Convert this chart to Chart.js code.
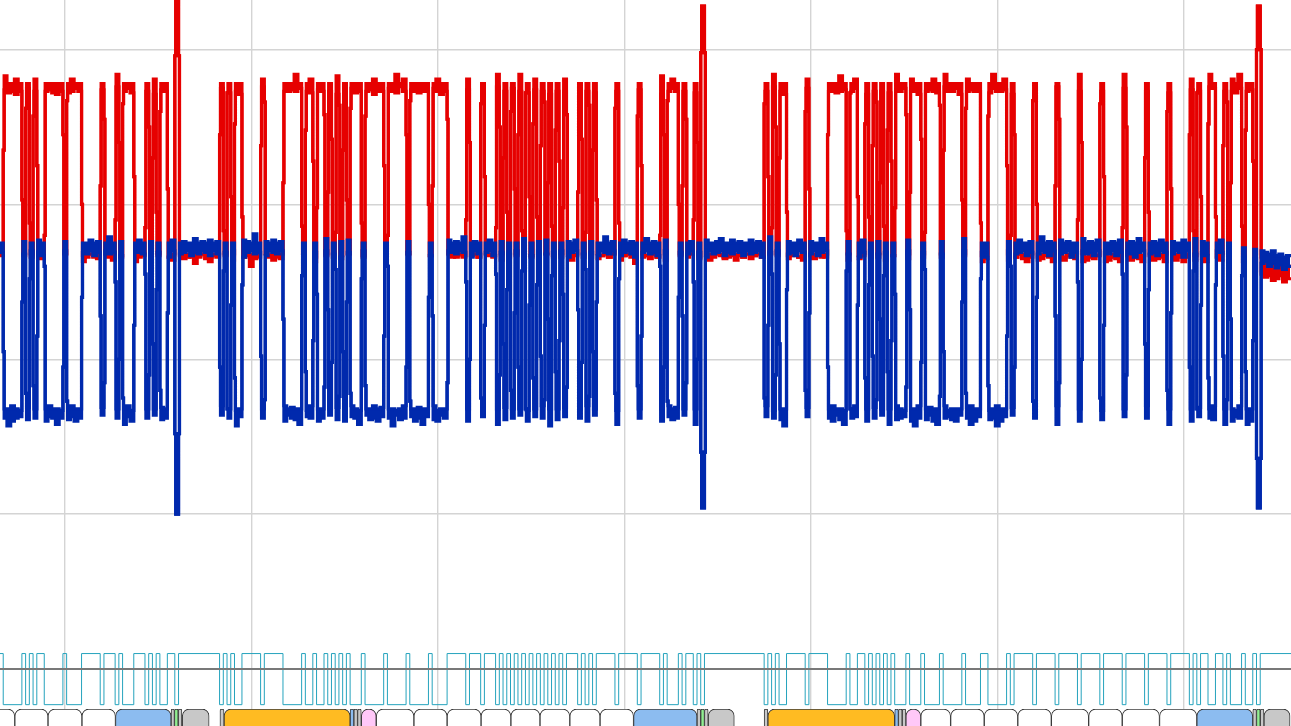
<!DOCTYPE html>
<html>
<head>
<meta charset="utf-8">
<title>traces</title>
<script src="https://cdn.jsdelivr.net/npm/chart.js@4"></script>
<style>
html, body { margin: 0; padding: 0; background: #fff; overflow: hidden; width: 1291px; height: 726px; }
canvas { position: absolute; left: 0; display: block; }
#main { top: 0; }
#lanes { top: 709px; }
</style>
</head>
<body>
<canvas id="main" width="1291" height="709"></canvas>
<canvas id="lanes" width="1291" height="40"></canvas>
<script>
// sample numbers where the teal state flips, it starts high
var tealEdges = [1,6,7,8,9,10,12,17,18,22,27,28,31,32,33,36,39,40,41,42,43,45,47,48,59,60,61,62,63,65,70,71,76,81,82,84,85,87,88,89,90,91,92,93,94,97,98,103,104,109,110,115,116,120,125,126,129,130,133,134,135,136,137,138,139,140,141,142,143,144,145,146,147,148,149,150,151,152,155,156,157,158,159,160,165,166,171,172,177,178,179,182,183,184,186,187,188,189,205,206,207,208,209,211,216,217,222,227,228,230,232,233,234,235,236,237,238,239,240,243,244,247,248,252,253,258,259,263,265,270,271,272,277,278,283,284,289,290,295,296,301,302,307,308,313,314,319,320,321,322,324,326,328,329,330,333,334,336,337,338];
var tealHigh = 10;
var tealLow = -23;

// red band while teal is low, upper and lower edge, one value per sample
var redTopUp = [383,378,378,381,378,378,381,378,378,378,378,378,378,381,378,378,378,384,378,378,378,378,381,378,378,378,378,378,378,378,381,378,378,378,384,378,378,381,378,378,378,383,378,378,378,378,378,378,381,378,378,378,378,384,378,381,378,378,378,378,378,378,381,378,378,381,378,384,378,378,384,378,381,378,378,378,381,378,378,378,378,378,383,378,381,378,378,378,378,378,384,378,378,381,378,378,378,383,378,378,381,378,378,378,378,384,378,378,381,378,378,378,378,381,378,384,378,378,378,378,381,378,378,378,378,384,378,378,381,378,378,378,384,378,384,378,378,381,378,384,378,378,381,378,384,378,378,384,381,378];
var redTopLo = [374,372,373,371,373,375,373,373,374,372,371,373,372,373,375,373,374,376,373,375,372,373,371,374,373,373,375,372,373,371,376,373,373,374,373,375,373,372,374,373,373,371,373,375,372,373,373,374,371,373,373,375,373,372,376,373,374,373,372,373,373,375,373,371,373,374,373,376,373,375,373,372,374,373,371,373,373,375,373,372,373,374,371,373,375,373,373,372,374,373,376,373,371,375,373,373,372,373,374,373,375,371,373,373,372,374,373,375,373,373,371,373,374,373,372,376,373,373,375,371,373,374,373,373,372,375,373,373,374,371,373,376,373,373,375,373,372,374,373,376,375,373,373,372,375,373,374,376,373,373];
// red band while teal is high
var redFloorUp = [268,267,268,268,266,268,267,268,268,266,268,268,267,268,266,268,268,267,268,268,266,268,267,268,268,266,268,267,268,268,266,268,268,267,268,266,268,268,267,268,268,266,268,267,268,268,266,268,268,267,268,266,268,268,267,268,268,266,268,267,268,268,266,268,268,267,268,266,268,268,267,268,268,266,268,267,268,268,266,268,268,267,268,266,268,268,267,268,268,266,268,267,268,268,266,268,268,267,268,266,268,268,267,268,268,266,268,267,268,268,266,268,268,267,268,266,268,268,267,268,268,266,268,267,268,268,266,268,268,267,268,266,268,268,267,268,268,266,268,267,268,268,266,268,268,267,268,266,268,268,267,268,268,266,268,267,268,268,266,268,268,267,268,266,268,268,267,268,268,266,268,267,268,268,266,268,268,267,268,266,268,268,267,268,268,266,268,267,268,268,266,264,263,262,260,262,263,260,261,260];
var redFloorLo = [267,268,266,267,265,268,263,266,268,267,265,268,266,264,267,263,266,268,265,267,266,264,268,265,266,267,262,266,268,265,263,267,266,268,264,266,267,260,265,266,268,267,264,266,265,268,263,267,266,265,268,267,266,268,267,268,266,267,268,266,267,268,266,268,267,266,264,268,267,268,266,265,268,267,266,268,264,267,268,266,265,267,268,266,268,264,267,268,266,262,266,267,265,268,266,264,267,266,268,265,267,264,266,268,267,265,266,268,264,267,266,268,265,267,268,266,268,267,265,267,268,266,264,267,265,268,267,266,264,265,267,268,266,264,267,265,266,268,267,263,265,264,266,268,265,263,266,264,265,267,266,263,265,264,267,266,265,263,264,266,265,267,263,264,266,265,263,267,264,266,265,263,267,264,265,266,263,265,264,267,263,266,264,265,263,266,264,265,263,257,255,253,254,251,252,254,250,252,251,250];
var redShoulders = [335,303,362,288,357,325,280,345,367,300,312,355,290,340,365,318,285,350,330,295,360,310,345,283,372,305,352,292,338,366,314,286,348,328,298,358,308,342,282,364];

// blue band while teal is low, upper and lower edge
var blueBotUp = [168,168,170,168,167,169,168,168,170,168,168,167,168,170,168,168,169,168,168,170,167,168,168,169,168,168,170,168,167,168,168,170,168,169,168,168,167,170,168,168,168,169,168,170,168,167,168,168,170,168,169,168,168,167,168,170,168,168,169,168,168,170,167,168,168,168,170,168,169,168,168,167,168,170,168,168,169,168,170,168,167,168,168,170,168,169,168,168,168,170,167,168,168,169,168,170,168,168,167,168,170,168,169,168,168,170,168,167,168,168,170,168,169,168,168,170,167,168,168,168,169,170,168,168,167,168,170,168,168,169,168,170,168,167,168,170,168,168,169,168,170,168,168,167,170,168,168,169,168,168];
var blueBotLo = [162,157,160,162,163,161,162,160,163,162,158,162,161,163,160,162,164,162,158,163,160,162,164,161,162,160,164,162,157,163,162,160,164,162,161,158,163,162,160,162,164,161,160,163,162,158,164,161,162,160,163,162,157,164,161,162,163,160,162,158,163,161,160,164,162,160,163,158,161,162,164,160,163,162,157,161,163,162,160,164,158,162,160,163,161,162,164,158,160,163,162,161,157,163,162,160,164,161,158,162,163,160,162,164,158,161,162,163,160,157,162,161,164,160,158,162,163,161,160,164,162,158,160,163,161,162,157,160,163,164,162,158,160,161,163,162,158,160,163,162,161,158,160,163,162,158,160,161,158,160];
// blue band while teal is high
var blueCeilUp = [275,276,275,277,275,276,275,275,277,275,276,275,279,275,276,275,277,275,276,275,275,277,275,276,275,275,278,275,276,275,277,275,276,275,275,277,276,275,281,275,276,275,277,275,276,275,275,278,275,276,277,275,275,276,275,277,275,276,275,279,275,276,275,275,277,275,276,275,275,278,275,276,277,275,275,276,275,277,275,276,275,275,279,275,276,275,277,275,276,275,275,278,275,276,275,277,275,275,276,275,277,275,275,276,278,275,275,277,275,276,275,275,277,275,276,275,279,275,276,275,275,277,275,276,275,275,278,275,276,275,277,275,276,275,275,277,275,276,278,275,275,276,275,277,275,275,276,275,279,275,276,275,277,275,276,275,275,278,275,276,275,277,275,275,276,275,277,275,276,275,278,275,275,276,275,277,275,276,275,275,277,275,278,276,275,275,277,275,272,271,270,269,268,270,267,268,266,267,268,266];
var blueCeilLo = [269,268,270,269,267,270,269,268,270,267,269,270,268,269,267,270,269,268,270,269,266,270,268,269,270,267,269,268,270,269,267,270,268,269,270,266,269,270,268,269,267,270,269,268,270,267,269,270,268,266,269,270,268,269,267,270,269,268,270,269,266,270,268,269,270,267,269,268,270,269,267,270,268,269,270,266,269,270,268,269,267,270,269,268,270,267,269,270,268,266,269,270,268,269,267,270,269,268,270,269,266,270,268,269,270,267,269,268,270,269,267,270,268,269,270,266,269,270,268,269,267,270,269,268,270,267,269,270,268,266,269,270,268,269,267,270,269,268,270,269,266,270,268,269,270,267,269,268,270,269,267,270,268,269,270,266,269,270,268,269,267,270,269,268,270,267,269,270,268,266,269,270,268,269,267,270,269,268,270,269,266,270,268,269,267,270,269,268,266,265,262,263,260,262,259,261,258,260,261,259];
var blueShoulders = [205,237,178,252,183,215,260,195,173,240,228,185,250,200,175,222,255,190,210,245,180,230,195,257,168,235,188,248,202,174,226,254,192,212,242,182,232,198,258,176];

// the three tall spikes
var spikeAt = [47,188,337];
var spikeRed = [445,428,428];
var spikeBlue = [100,104,104];
var spikeRedMid = [396,398,400];
var spikeBlueMid = [152,140,136];

// grid positions in sample numbers
var gridX = [17.6,67.6,117.6,167.6,217.6,267.6,317.6];
var gridY = [0,100,200,300,400];
var xMin = 0.134;
var xMax = 346.25;
var yMin = -25.8;
var yMax = 432;

// bottom lane
var laneStart = [-2,4.1,13,22.1,31.1,46,46.9,47.9,49,59.1,60.2,94,95,96,97,101,111.1,120,129.1,137.1,144.9,152.9,161,170,187,188,189,190,205,206,240,241,242,243,247,255,264,273,282,292,301,311,321,336,337,338,339];
var laneEnd = [4.1,13,22.1,31.1,46,46.9,47.9,48.9,56.2,60.2,94,95,96,97,101,111.1,120,129.1,137.1,144.9,152.9,161,170,187,188,189,190,197,206,240,241,242,243,247,255,264,273,282,292,301,311,321,336,337,338,339,346];
var laneColor = ['#ffffff','#ffffff','#ffffff','#ffffff','#8cbcf0','#c8c8c8','#90ee90','#c8c8c8','#c8c8c8','#c8c8c8','#ffbb22','#8cbcf0','#c8c8c8','#c8c8c8','#ffc8f8','#ffffff','#ffffff','#ffffff','#ffffff','#ffffff','#ffffff','#ffffff','#ffffff','#8cbcf0','#c8c8c8','#90ee90','#c8c8c8','#c8c8c8','#c8c8c8','#ffbb22','#8cbcf0','#c8c8c8','#c8c8c8','#ffc8f8','#ffffff','#ffffff','#ffffff','#ffffff','#ffffff','#ffffff','#ffffff','#ffffff','#8cbcf0','#c8c8c8','#90ee90','#c8c8c8','#c8c8c8'];

// teal state per sample, true means high
function tealStates() {
    var states = [];
    var high = true;
    var e = 0;
    for (var i = 0; i <= 346; i++) {
        if (e < tealEdges.length && tealEdges[e] == i) {
            high = !high;
            e++;
        }
        states.push(high);
    }
    return states;
}

function buildTeal() {
    var pts = [{x: 0, y: tealHigh}];
    var high = true;
    for (var e = 0; e < tealEdges.length; e++) {
        high = !high;
        pts.push({x: tealEdges[e], y: high ? tealHigh : tealLow});
    }
    pts.push({x: 346.25, y: high ? tealHigh : tealLow});
    return pts;
}

// red and blue share the teal edges, each edge has a small shoulder
function buildTrace(lowState, highState, shoulders, spikes, spikeMids) {
    var states = tealStates();
    var pts = [];
    var a = 0, b = 0, s = 0;
    for (var i = 0; i <= 346; i++) {
        var y = states[i] ? highState[b++] : lowState[a++];
        var sp = spikeAt.indexOf(i);
        var spPrev = spikeAt.indexOf(i - 1);
        if (sp >= 0) y = spikes[sp];
        if (i > 0 && states[i] != states[i - 1]) {
            var mid;
            if (sp >= 0) mid = spikeMids[sp];
            else if (spPrev >= 0) mid = spikeMids[spPrev];
            else mid = shoulders[s++ % shoulders.length];
            pts.push({x: i, y: mid});
            pts.push({x: i + 0.25, y: y});
        } else {
            pts.push({x: i, y: y});
        }
    }
    return pts;
}

function lineSet(data, color, width, fillTo) {
    return {
        data: data,
        borderColor: color,
        backgroundColor: color,
        borderWidth: width,
        stepped: true,
        pointRadius: 0,
        fill: fillTo || false,
        borderJoinStyle: 'miter',
        borderCapStyle: 'butt'
    };
}

var main = new Chart(document.getElementById('main'), {
    type: 'line',
    data: {
        datasets: [
            lineSet([{x: xMin, y: 0}, {x: xMax, y: 0}], '#787878', 2),
            lineSet(buildTrace(blueBotUp, blueCeilUp, blueShoulders, spikeBlue, spikeBlueMid), '#0029ad', 3.2, '+1'),
            lineSet(buildTrace(blueBotLo, blueCeilLo, blueShoulders, spikeBlue, spikeBlueMid), '#0029ad', 3.2),
            lineSet(buildTrace(redTopUp, redFloorUp, redShoulders, spikeRed, spikeRedMid), '#e60000', 3.2, '+1'),
            lineSet(buildTrace(redTopLo, redFloorLo, redShoulders, spikeRed, spikeRedMid), '#e60000', 3.2),
            lineSet(buildTeal(), '#25a3bd', 1)
        ]
    },
    options: {
        responsive: false,
        animation: false,
        devicePixelRatio: 1,
        parsing: false,
        layout: { padding: 0 },
        plugins: { legend: { display: false }, tooltip: { enabled: false } },
        scales: {
            x: {
                type: 'linear', min: xMin, max: xMax,
                afterBuildTicks: function(scale) { scale.ticks = gridX.map(function(v) { return {value: v}; }); },
                ticks: { display: false },
                border: { display: false },
                grid: { color: '#d4d4d4', lineWidth: 1.4, drawTicks: false }
            },
            y: {
                type: 'linear', min: yMin, max: yMax,
                afterBuildTicks: function(scale) { scale.ticks = gridY.map(function(v) { return {value: v}; }); },
                ticks: { display: false },
                border: { display: false },
                grid: { color: '#d4d4d4', lineWidth: 1.4, drawTicks: false }
            }
        }
    }
});

var laneSets = [];
for (var k = 0; k < laneStart.length; k++) {
    laneSets.push({
        data: [[laneStart[k], laneEnd[k]]],
        backgroundColor: laneColor[k],
        borderColor: '#3c3c3c',
        borderWidth: 1,
        borderRadius: 7,
        borderSkipped: false,
        barPercentage: 1,
        categoryPercentage: 1,
        grouped: false
    });
}

var lanes = new Chart(document.getElementById('lanes'), {
    type: 'bar',
    data: { labels: ['lane'], datasets: laneSets },
    options: {
        indexAxis: 'y',
        responsive: false,
        animation: false,
        devicePixelRatio: 1,
        layout: { padding: 0 },
        plugins: { legend: { display: false }, tooltip: { enabled: false } },
        scales: {
            x: { type: 'linear', min: xMin, max: xMax, display: false },
            y: { display: false }
        }
    }
});
</script>
</body>
</html>
